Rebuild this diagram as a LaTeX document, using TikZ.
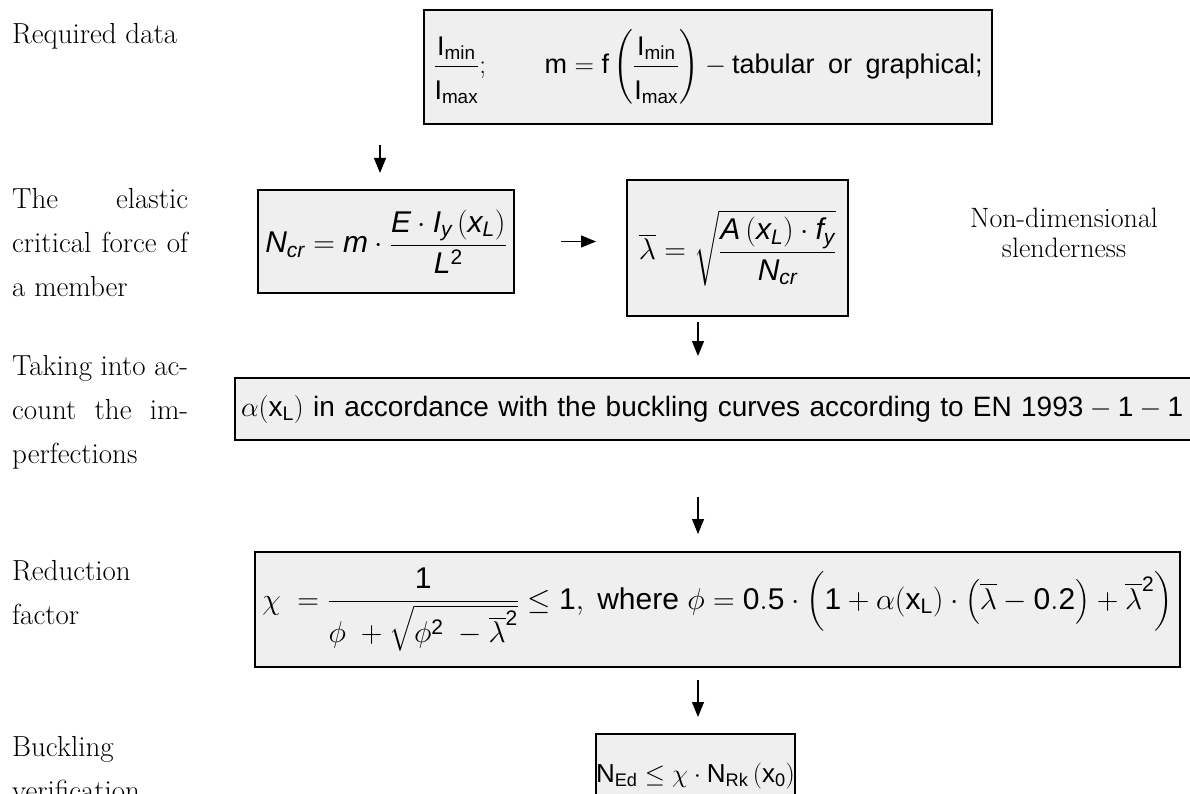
\RequirePackage{fix-cm}
\documentclass[tikz,border=0pt]{standalone}
\usepackage{amsmath}
\usepackage{fontspec}
\setmainfont{Liberation Sans}
\usepackage{tikz}
\usetikzlibrary{arrows.meta}
\definecolor{FormFill}{HTML}{EFEFEF}
\newcommand{\labfont}{\fontfamily{lmr}\selectfont}
\newcommand{\jline}[1]{\makebox[176pt][s]{#1}}

\begin{document}
\begin{tikzpicture}[x=1pt, y=-1pt,
  box/.style={draw, line width=2pt, fill=FormFill, inner sep=0pt},
  lbl/.style={inner sep=0pt, align=left, font=\labfont\fontsize{29}{44}\selectfont},
  arr/.style={-{Triangle[length=15pt,width=12pt]}, line width=1.2pt}]
  \fill[white] (0,0) rectangle (1190,794);
  \useasboundingbox (0,0) rectangle (1190,794);

  % formula boxes
  \node[box, anchor=north west, minimum width=568pt, minimum height=114pt,
    font=\fontsize{27}{32}\selectfont] (req) at (423,9)
    {$\displaystyle \frac{\mathrm{I}_{\mathrm{min}}\rule[-7pt]{0pt}{7pt}}{\rule{0pt}{29pt}\mathrm{I}_{\mathrm{max}}};\qquad
      \mathrm{m}=\mathrm{f}\left(\frac{\mathrm{I}_{\mathrm{min}}\rule[-7pt]{0pt}{7pt}}{\rule{0pt}{29pt}\mathrm{I}_{\mathrm{max}}}\right)
      -\text{tabular\enspace or\enspace graphical;}$};
  \node[box, minimum width=256pt, minimum height=103pt,
    font=\fontsize{30}{36}\selectfont] (ncr) at (386,241.5)
    {$\displaystyle \mathit{N}_{\mathit{cr}}=\mathit{m}\cdot
      \frac{\mathit{E}\cdot\mathit{I}_{\mathit{y}}\left(\mathit{x}_{\mathit{L}}\right)}{\mathit{L}^{\mathrm{2}}}$};
  \node[box, minimum width=221pt, minimum height=136pt,
    font=\fontsize{30}{36}\selectfont] (lam) at (737.5,248)
    {$\displaystyle \overline{\lambda}=\sqrt{\frac{\mathit{A}\left(\mathit{x}_{\mathit{L}}\right)\cdot\mathit{f}_{\mathit{y}}}{\mathit{N}_{\mathit{cr}}}}$};
  \node[box, anchor=west, text width=960pt, align=left, inner xsep=6pt, minimum height=62pt,
    font=\fontsize{28}{32}\selectfont] (imp) at (234,409)
    {$\alpha(\mathrm{x}_{\mathrm{L}})$\ in\ accordance\ with\ the\ buckling\ curves\ according\ to\ EN\ 
      $\mathrm{1993}-\mathrm{1}-\mathrm{1}$};
  \node[box, minimum width=925pt, minimum height=115pt,
    font=\fontsize{30}{36}\selectfont] (red) at (717.5,609.5)
    {$\displaystyle \chi\;=\frac{\mathrm{1}}{\phi\;+\sqrt{\phi^{\mathrm{2}}\;-\overline{\lambda}^{\mathrm{2}}}}\leq \mathrm{1},\text{\ where\ }
      \phi=\mathrm{0.5}\cdot\left(\mathrm{1}+\alpha(\mathrm{x}_{\mathrm{L}})\cdot\left(\overline{\lambda}-\mathrm{0.2}\right)+\overline{\lambda}^{\mathrm{2}}\right)$};
  \node[box, anchor=north west, minimum width=193pt, minimum height=84pt,
    font=\fontsize{26}{30}\selectfont] (ver) at (595,733)
    {$\mathrm{N}_{\mathrm{Ed}}\leq\chi\cdot\mathrm{N}_{\mathrm{Rk}}\left(\mathrm{x}_{\mathrm{0}}\right)$};

  % labels on the left (base = last line)
  \node[lbl, anchor=base west] (lreq) at (12,44) {Required data};
  \node[lbl, anchor=base west] (lncr) at (12,296)
    {\jline{The elastic}\\\jline{critical force of}\\a member};
  \node[lbl, anchor=base west] (limp) at (12,463)
    {\jline{Taking into ac-}\\\jline{count the im-}\\perfections};
  \node[lbl, anchor=base west] (lred) at (12,624) {Reduction\\factor};
  \node[lbl, anchor=base west] (lver) at (12,800) {Buckling\\verification};
  \node[lbl, align=center, anchor=base, font=\labfont\fontsize{28}{30}\selectfont] (llam) at (1064,258)
    {Non-dimensional\\slenderness};

  % arrows
  \coordinate (a1s) at (380,145); \coordinate (a1e) at (380,173);
  \coordinate (a3s) at (698,322); \coordinate (a3e) at (698,356);
  \coordinate (a4s) at (698,497); \coordinate (a4e) at (698,534);
  \coordinate (a5s) at (698,680); \coordinate (a5e) at (698,717);
  \draw[arr] (a1s) -- (a1e);
  \draw[arr, shorten <=46pt, shorten >=30pt] (ncr.east) -- (ncr.east -| lam.west);
  \draw[arr] (a3s) -- (a3e);
  \draw[arr] (a4s) -- (a4e);
  \draw[arr] (a5s) -- (a5e);
\end{tikzpicture}
\end{document}
